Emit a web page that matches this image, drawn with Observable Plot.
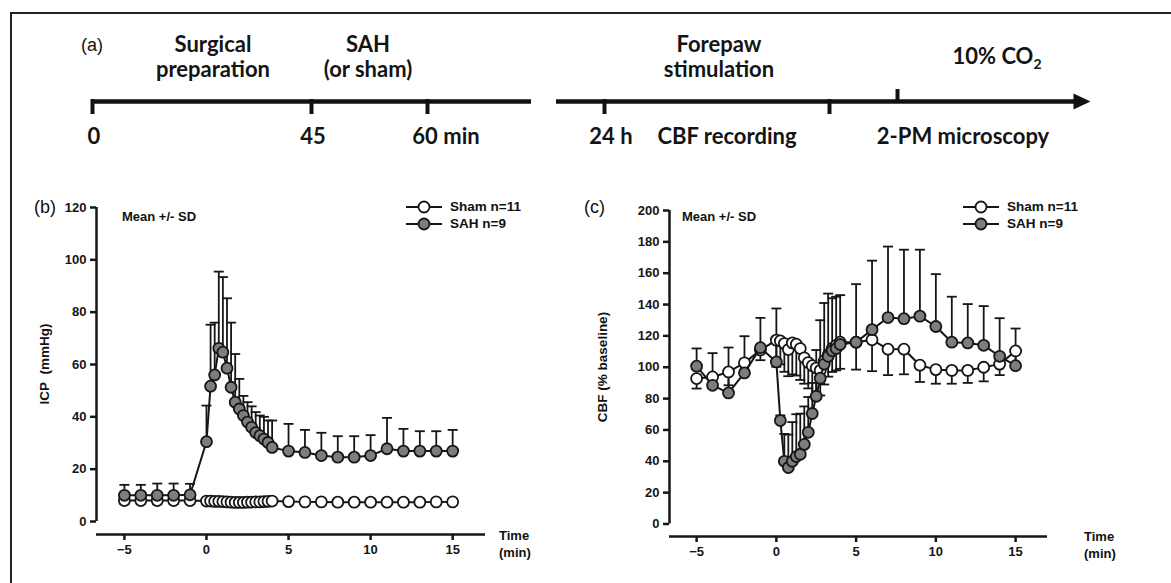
<!DOCTYPE html>
<html><head><meta charset="utf-8">
<script src="https://cdn.jsdelivr.net/npm/d3@7"></script>
<script src="https://cdn.jsdelivr.net/npm/@observablehq/plot@0.6"></script>
<style>
html,body{margin:0;padding:0;background:#fff;}
body{width:1171px;height:583px;overflow:hidden;position:relative;font-family:"Liberation Sans",Arial,sans-serif;color:#111;}
#frame{position:absolute;left:10px;top:12px;width:1200px;height:620px;border:2px solid #222;box-sizing:border-box;}
.t{position:absolute;white-space:nowrap;line-height:1;}
.c{transform:translate(-50%,-50%);}
.l{transform:translate(0,-50%);}
.tl{font-family:Lato,"Open Sans",sans-serif;font-weight:700;font-size:22px;color:#141414;}
.b{font-weight:700;}
.plot{position:absolute;}
</style></head><body>
<div id="frame"></div>
<script>
// ---------- data ----------
const times = [-5,-4,-3,-2,-1,0,0.25,0.5,0.75,1,1.25,1.5,1.75,2,2.25,2.5,2.75,3,3.25,3.5,3.75,4,5,6,7,8,9,10,11,12,13,14,15];

// (b) ICP, mmHg
const icpShamMean = [8,8,8,8,8, 7.8,7.8,7.7,7.7,7.6,7.5,7.4,7.3,7.3,7.3,7.4,7.4,7.5,7.5,7.6,7.7,7.8, 7.6,7.5,7.5,7.4,7.4,7.4,7.4,7.4,7.4,7.5,7.5];
const icpShamSD   = [1.4,1.3,1.4,1.3,1.3, 1.2,1.2,1.2,1.2,1.2,1.2,1.2,1.2,1.2,1.2,1.2,1.2,1.2,1.2,1.2,1.2,1.2, 1.2,1.2,1.2,1.2,1.2,1.2,1.2,1.2,1.2,1.2,1.2];
const icpSahMean  = [10,10,10,10,10.2, 30.5,51.7,56,66.2,64.7,58.6,51.3,45.6,43,40.5,38,36,34,32.8,31.5,30.2,28.3, 26.9,26.4,25.2,24.6,24.6,25.2,27.8,26.9,26.9,26.9,26.9];
const icpSahSD    = [4,4,4.5,4.5,4.2, 13.8,23.5,20,29.3,28.7,26.7,24.7,18.4,11.5,7.5,7.6,8,7.8,7.7,8.5,8.4,10.3, 10.4,8.6,8.7,8,8,7.8,11.8,8.5,7.6,7.6,8.1];

// (c) CBF, % baseline
const cbfShamMean = [92.8,93.8,97,102.8,111, 117.3,116.8,115.1,111.3,115.5,114.7,111.9,106,103,101,99.5,98,104,108,112,114,116, 116,117.5,111.5,111.5,101.3,98.5,98,98,100,102,110.4];
const cbfShamSD   = [6.4,6,8.5,7,6.5, 17,15,18,17,20,20,20,16.5,16.5,20,17,16,15,14,15,16,17, 17.5,20,16.5,16,10.7,9,8.5,8,9,7,8];
const cbfSahMean  = [100.7,88.5,83.6,96.4,112.5, 103.4,66,40,36,40,43,44.5,50.8,58.5,70.5,81.5,93,102,107,110.5,112,114.5, 116,124,131.7,131,132.6,126,116,115.5,114,107,101];
const cbfSahSD    = [11.3,20.5,29,23.4,19, 34.1,3.3,17.5,21,25,27,25.9,24.2,22.5,19.5,29.5,37,39,40,33.5,33,31.5, 37,44,45.3,44,42.4,33.4,29,24.8,25,24.3,23.7];

const xTicks = [-5,0,5,10,15];
const icpTicks = [0,20,40,60,80,100,120];
const cbfTicks = [0,20,40,60,80,100,120,140,160,180,200];

// timeline (a): schematic positions along the banner
const tlSegments = [{x1: 92, x2: 531}, {x1: 556, x2: 1078}];
const tlDownTicks = [92, 311, 427, 604, 829];
const tlUpTicks = [897];
const tlArrow = [1078];

// ---------- helpers ----------
const INK = "#161616";
const SAH_FILL = "#7d7d7d";
const capSymbol = {draw(ctx){ ctx.moveTo(-5,0); ctx.lineTo(5,0); }};
const arrowSymbol = {draw(ctx){ ctx.moveTo(12,0); ctx.lineTo(-5,-8); ctx.lineTo(-5,8); ctx.closePath(); }};

function rows(mean, sd){ return times.map((t,i)=>({t, m: mean[i], sd: sd[i]})); }

function panel({sham, sah, yDomain, yTicks, xDomain, width, height, ml, mr, mt, mb, inset}){
  return Plot.plot({
    width, height, marginLeft: ml, marginRight: mr, marginTop: mt, marginBottom: mb,
    x: {domain: xDomain},
    y: {domain: yDomain, insetBottom: inset},
    style: {fontFamily: "'Liberation Sans', Arial, sans-serif", fontSize: "13px", fontWeight: "bold", color: INK, background: "transparent", overflow: "visible"},
    marks: [
      Plot.ruleX([xDomain[0]], {y1: yDomain[0], y2: yDomain[1], stroke: INK, strokeWidth: 2.5}),
      Plot.ruleY([yDomain[0]], {x1: xDomain[0], x2: xDomain[1], dy: inset, stroke: INK, strokeWidth: 2.5}),
      Plot.axisY({ticks: yTicks, tickSize: 6, tickPadding: 4, strokeWidth: 2.5, label: null, stroke: INK}),
      Plot.axisX({ticks: xTicks, tickSize: 6, tickPadding: 4, strokeWidth: 2.5, label: null, stroke: INK}),
      // sham: bars below the mean
      Plot.ruleX(sham, {x: "t", y1: "m", y2: d => d.m - d.sd, stroke: INK, strokeWidth: 1.8}),
      Plot.dot(sham, {x: "t", y: d => d.m - d.sd, symbol: capSymbol, stroke: INK, strokeWidth: 1.8, fill: "none"}),
      // SAH: bars above the mean
      Plot.ruleX(sah, {x: "t", y1: "m", y2: d => d.m + d.sd, stroke: INK, strokeWidth: 1.8}),
      Plot.dot(sah, {x: "t", y: d => d.m + d.sd, symbol: capSymbol, stroke: INK, strokeWidth: 1.8, fill: "none"}),
      Plot.line(sham, {x: "t", y: "m", stroke: INK, strokeWidth: 2}),
      Plot.dot(sham, {x: "t", y: "m", r: 5.5, fill: "white", stroke: INK, strokeWidth: 1.8}),
      Plot.line(sah, {x: "t", y: "m", stroke: INK, strokeWidth: 2}),
      Plot.dot(sah, {x: "t", y: "m", r: 5.5, fill: SAH_FILL, stroke: INK, strokeWidth: 1.8})
    ]
  });
}

function place(el, left, top){ el.classList.add("plot"); el.style.left = left + "px"; el.style.top = top + "px"; document.body.appendChild(el); }
function text(html, x, y, cls, extra){
  const s = document.createElement("div");
  s.className = "t " + cls; s.innerHTML = html;
  s.style.left = x + "px"; s.style.top = y + "px";
  if (extra) Object.assign(s.style, extra);
  document.body.appendChild(s); return s;
}

// ---------- (a) timeline ----------
const tl = Plot.plot({
  width: 1171, height: 170, margin: 0,
  x: {domain: [0, 1171], range: [0, 1171], axis: null},
  y: {domain: [0, 170], range: [0, 170], axis: null},
  style: {background: "transparent", overflow: "visible"},
  marks: [
    Plot.ruleY(tlSegments, {y: () => 101, x1: "x1", x2: "x2", stroke: "#111", strokeWidth: 4.5}),
    Plot.ruleX(tlDownTicks, {x: d => d, y1: 99, y2: 114, stroke: "#111", strokeWidth: 4}),
    Plot.ruleX(tlUpTicks, {x: d => d, y1: 89, y2: 103, stroke: "#111", strokeWidth: 4}),
    Plot.dot(tlArrow, {x: d => d, y: () => 101, symbol: arrowSymbol, r: 8, fill: "#111", stroke: "none"})
  ]
});
place(tl, 0, 0);

text("(a)", 81, 45, "l", {fontSize: "18px"});
text("Surgical", 213, 44, "c tl");
text("preparation", 213, 69, "c tl");
text("SAH", 368, 44, "c tl");
text("(or sham)", 368, 69, "c tl");
text("Forepaw", 719, 44, "c tl");
text("stimulation", 719, 69, "c tl");
text("10% CO<sub style='font-size:14px;vertical-align:-5px'>2</sub>", 997, 58, "c tl");
text("0", 94, 136, "c tl");
text("45", 313, 136, "c tl");
text("60 min", 446, 136, "c tl");
text("24 h", 611, 136, "c tl");
text("CBF recording", 727, 136, "c tl");
text("2-PM microscopy", 963, 136, "c tl");

// ---------- (b) ICP ----------
const pb = panel({
  sham: rows(icpShamMean, icpShamSD), sah: rows(icpSahMean, icpSahSD),
  yDomain: [0, 120], yTicks: icpTicks, xDomain: [-6.7, 17],
  width: 580, height: 400, ml: 96, mr: 95, mt: 27, mb: 46, inset: 13
});
place(pb, 0, 180);

// ---------- (c) CBF ----------
const pc = panel({
  sham: rows(cbfShamMean, cbfShamSD), sah: rows(cbfSahMean, cbfSahSD),
  yDomain: [0, 200], yTicks: cbfTicks, xDomain: [-6.7, 17],
  width: 571, height: 400, ml: 69, mr: 124, mt: 30, mb: 44, inset: 12.5
});
place(pc, 600, 180);

// panel annotations
text("(b)", 34, 207, "l", {fontSize: "18px"});
text("(c)", 584, 207, "l", {fontSize: "18px"});
text("Mean +/- SD", 122, 216, "l b", {fontSize: "13px"});
text("Mean +/- SD", 682, 216, "l b", {fontSize: "13px"});
text("ICP&nbsp;&nbsp;(mmHg)", 45, 364, "c b", {fontSize: "13.5px", transform: "translate(-50%,-50%) rotate(-90deg)"});
text("CBF (% baseline)", 603, 367, "c b", {fontSize: "13.5px", transform: "translate(-50%,-50%) rotate(-90deg)"});
text("Time<br>(min)", 499, 544, "l b", {fontSize: "13px", lineHeight: "17px"});
text("Time<br>(min)", 1084, 545, "l b", {fontSize: "13px", lineHeight: "17px"});

// legends
function legend(cx, y, label, fill){
  const svg = d3.create("svg").attr("width", 40).attr("height", 14)
    .style("position","absolute").style("left", (cx-20)+"px").style("top", (y-7)+"px");
  svg.append("line").attr("x1",2).attr("x2",38).attr("y1",7).attr("y2",7).attr("stroke",INK).attr("stroke-width",2.2);
  svg.append("circle").attr("cx",20).attr("cy",7).attr("r",5.5).attr("fill",fill).attr("stroke",INK).attr("stroke-width",1.8);
  document.body.appendChild(svg.node());
  text(label, cx+26, y, "l b", {fontSize: "13.5px"});
}
legend(424, 207, "Sham n=11", "white");
legend(424, 224, "SAH n=9", SAH_FILL);
legend(981, 207, "Sham n=11", "white");
legend(981, 224, "SAH n=9", SAH_FILL);
</script>
</body></html>
